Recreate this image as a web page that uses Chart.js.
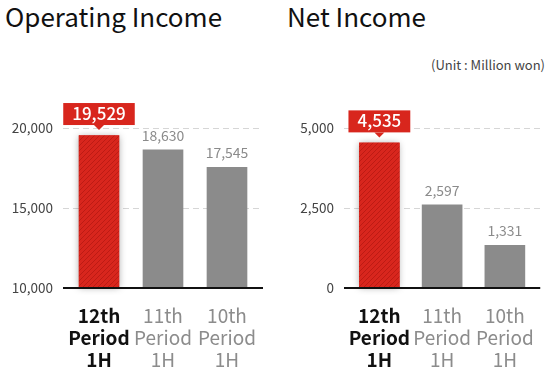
<!DOCTYPE html>
<html>
<head>
<meta charset="utf-8">
<script src="https://cdn.jsdelivr.net/npm/chart.js@4/dist/chart.umd.min.js"></script>
<style>
  html, body { margin:0; padding:0; background:#fff; }
  body { width:553px; height:373px; position:relative; overflow:hidden; font-family:"Noto Sans CJK KR","Noto Sans",sans-serif; }
  .title { position:absolute; top:3px; font-size:26px; line-height:26px; color:#111; white-space:nowrap; }
  .unit { position:absolute; top:58px; right:8px; font-size:13px; line-height:13px; color:#444; white-space:nowrap; }
  canvas { position:absolute; top:0; }
</style>
</head>
<body>
<div class="title" style="left:5px">Operating Income</div>
<div class="title" style="left:287px">Net Income</div>
<div class="unit">(Unit : Million won)</div>
<canvas id="c1" width="276" height="373" style="left:0"></canvas>
<canvas id="c2" width="277" height="373" style="left:276px"></canvas>
<script>
// ---- data ----
const categories = [['12th','Period','1H'], ['11th','Period','1H'], ['10th','Period','1H']];
const operatingIncome = [19529, 18630, 17545];
const netIncome = [4535, 2597, 1331];
const opTicks = [10000, 15000, 20000];
const netTicks = [0, 2500, 5000];

const F = '"Noto Sans CJK KR","Noto Sans",sans-serif';
const RED = '#d8261d';
const GRAY = '#8b8b8b';
const fmt = v => Number(v).toLocaleString('en-US');

function hatch() {
  const c = document.createElement('canvas');
  c.width = 5; c.height = 5;
  const g = c.getContext('2d');
  g.fillStyle = RED; g.fillRect(0,0,5,5);
  g.strokeStyle = 'rgba(140,10,5,0.35)'; g.lineWidth = 1;
  g.beginPath(); g.moveTo(-1,6); g.lineTo(6,-1); g.stroke();
  g.beginPath(); g.moveTo(-6,6); g.lineTo(1,-1); g.stroke();
  g.beginPath(); g.moveTo(4,6); g.lineTo(11,-1); g.stroke();
  return g.createPattern(c, 'repeat');
}

const deco = {
  id: 'deco',
  beforeDatasetsDraw(chart) {
    const {ctx, chartArea:a, scales:{y}} = chart;
    ctx.save();
    ctx.strokeStyle = '#d6d6d6'; ctx.lineWidth = 1; ctx.setLineDash([6,4]);
    y.ticks.forEach(t => {
      if (t.value === y.min) return;
      const py = Math.round(y.getPixelForValue(t.value)) + 0.5;
      ctx.beginPath(); ctx.moveTo(a.left-4, py); ctx.lineTo(a.right+4, py); ctx.stroke();
    });
    ctx.setLineDash([]);
    const b = chart.getDatasetMeta(0).data[0];
    const base = Math.min(b.base, a.bottom);
    ctx.shadowColor = 'rgba(0,0,0,0.35)'; ctx.shadowBlur = 7;
    ctx.fillStyle = RED;
    ctx.fillRect(b.x - b.width/2, b.y, b.width, base - b.y);
    ctx.restore();
  },
  afterDatasetsDraw(chart) {
    const {ctx, chartArea:a} = chart;
    const meta = chart.getDatasetMeta(0);
    const vals = chart.data.datasets[0].data;
    ctx.save();
    ctx.strokeStyle = '#111'; ctx.lineWidth = 2;
    ctx.beginPath(); ctx.moveTo(a.left-4, a.bottom); ctx.lineTo(a.right+4, a.bottom); ctx.stroke();
    meta.data.forEach((b, i) => {
      const txt = fmt(vals[i]);
      if (i === 0) {
        ctx.font = '500 17px ' + F;
        const w = ctx.measureText(txt).width + 18;
        const bottom = b.y - 10.5, h = 22;
        ctx.fillStyle = RED;
        ctx.fillRect(b.x - w/2, bottom - h, w, h);
        ctx.beginPath(); ctx.moveTo(b.x-5, bottom); ctx.lineTo(b.x+5, bottom); ctx.lineTo(b.x, bottom+5); ctx.closePath(); ctx.fill();
        ctx.fillStyle = '#fff'; ctx.textAlign = 'center'; ctx.textBaseline = 'alphabetic';
        ctx.fillText(txt, b.x, bottom - 5);
      } else {
        ctx.font = '14px ' + F;
        ctx.fillStyle = GRAY; ctx.textAlign = 'center'; ctx.textBaseline = 'alphabetic';
        ctx.fillText(txt, b.x, b.y - 9);
      }
    });
    ctx.restore();
  }
};

function make(id, values, ticks, padL, axisW, padR) {
  const pat = hatch();
  return new Chart(document.getElementById(id), {
    type: 'bar',
    data: { labels: categories, datasets: [{ data: values, backgroundColor: [pat, GRAY, GRAY], barThickness: 40, borderWidth: 0 }] },
    options: {
      responsive: false, animation: false,
      layout: { padding: { left: padL, right: padR, top: 128, bottom: 0 } },
      plugins: { legend: { display: false }, tooltip: { enabled: false } },
      scales: {
        x: {
          grid: { display: false, drawTicks: false }, border: { display: false },
          ticks: {
            padding: 17, autoSkip: false, maxRotation: 0,
            font: c => ({ family: F, size: 19, weight: c.index === 0 ? 'bold' : 'normal', lineHeight: 22/19 }),
            color: c => c.index === 0 ? '#111' : '#8c8c8c'
          },
          afterFit(s) { s.height = 85; }
        },
        y: {
          min: ticks[0], max: ticks[ticks.length-1],
          afterBuildTicks(s) { s.ticks = ticks.map(v => ({ value: v })); },
          grid: { display: false, drawTicks: false }, border: { display: false },
          ticks: { padding: 14, color: '#444', font: { family: F, size: 13.5 }, callback: v => fmt(v) },
          afterFit(s) { s.width = axisW; }
        }
      }
    },
    plugins: [deco]
  });
}
make('c1', operatingIncome, opTicks, 12, 55, 17);
make('c2', netIncome, netTicks, 12, 60, 13);
</script>
</body>
</html>
